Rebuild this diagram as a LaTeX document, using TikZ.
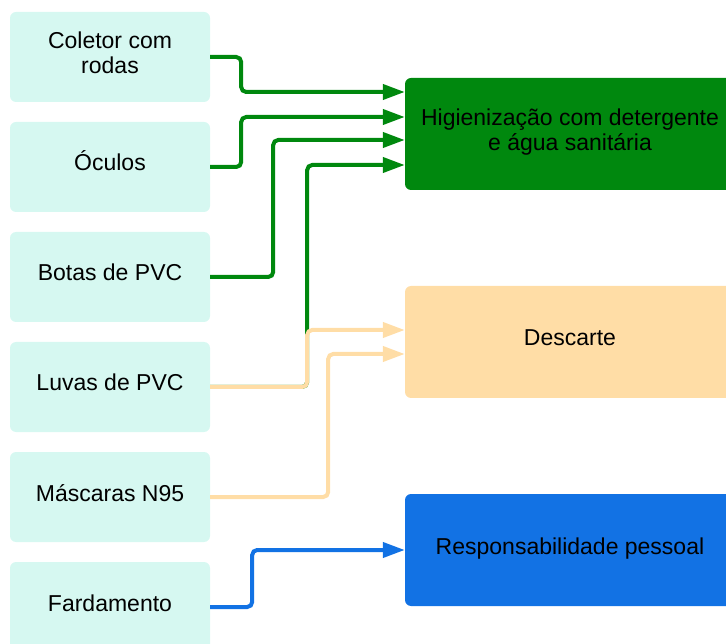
\documentclass[tikz,border=0pt]{standalone}
\usepackage{fontspec}
\setmainfont{Liberation Sans}
\usetikzlibrary{arrows.meta}

\definecolor{itembg}{RGB}{214,248,241}
\definecolor{higgreen}{RGB}{0,136,14}
\definecolor{descbeige}{RGB}{255,221,166}
\definecolor{respblue}{RGB}{18,114,228}

\begin{document}
\begin{tikzpicture}[x=1pt, y=-1pt,
        item/.style={fill=itembg, rounded corners=6pt, minimum width=200pt, minimum height=90pt, align=center, font=\fontsize{23}{25}\selectfont},
        action/.style={rounded corners=6pt, minimum width=330pt, minimum height=112pt, align=center, font=\fontsize{23}{25}\selectfont},
        oneline/.style={text height=16pt, text depth=8pt},
        twoline/.style={text height=41pt, text depth=8pt},
        link/.style={line width=4pt, rounded corners=5pt, -{Triangle[length=22pt,width=15pt]}}]
        \useasboundingbox (0,0) rectangle (726,644);

        % Items.
        \node[item, twoline] (coletor) at (110,57) {Coletor com\\rodas};
        \node[item, oneline] (oculos) at (110,167) {Óculos};
        \node[item, oneline] (botas) at (110,277) {Botas de PVC};
        \node[item, oneline] (luvas) at (110,387) {Luvas de PVC};
        \node[item, oneline] (mascaras) at (110,497) {Máscaras N95};
        \node[item, oneline] (farda) at (110,607) {Fardamento};

        % Actions.
        \node[action, twoline, fill=higgreen] (higien) at (570,134) {Higienização com detergente\\e água sanitária};
        \node[action, oneline, fill=descbeige] (descarte) at (570,342) {Descarte};
        \node[action, oneline, fill=respblue] (resp) at (570,550) {Responsabilidade pessoal};

        \draw[link, higgreen] (coletor.east) -- ++(31,0) |- ([yshift=42pt]higien.west);
        \draw[link, higgreen] (oculos.east) -- ++(31,0) |- ([yshift=17pt]higien.west);
        \draw[link, higgreen] (botas.east) -- ++(63,0) |- ([yshift=-6pt]higien.west);
        \draw[link, higgreen] (luvas.east) -- ++(97,0) |- ([yshift=-31pt]higien.west);
        \draw[link, descbeige] (luvas.east) -- ++(97,0) |- ([yshift=12pt]descarte.west);
        \draw[link, descbeige] (mascaras.east) -- ++(118,0) |- ([yshift=-12pt]descarte.west);
        \draw[link, respblue] (farda.east) -- ++(42,0) |- (resp.west);
\end{tikzpicture}
\end{document}
